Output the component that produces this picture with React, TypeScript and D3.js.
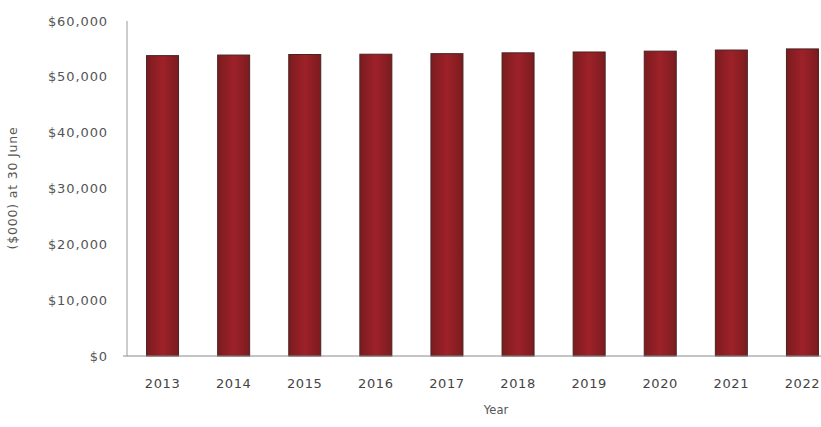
import React from "react";
import * as d3 from "d3";

const years = ["2013", "2014", "2015", "2016", "2017", "2018", "2019", "2020", "2021", "2022"];
const values = [53800, 53900, 54000, 54050, 54150, 54300, 54450, 54600, 54800, 55000];
const yTicks = [0, 10000, 20000, 30000, 40000, 50000, 60000];
const yTitle = "($000) at 30 June";
const xTitle = "Year";

export default function App() {
  const W = 821, H = 427;
  const x = d3.scaleBand<string>().domain(years).range([127, 838]).paddingInner(0.55).paddingOuter(0.275);
  const y = d3.scaleLinear().domain([0, 60000]).range([356, 21]);
  const fmt = (v: number) => "$" + d3.format(",")(v);
  const font = "'DejaVu Sans', sans-serif";
  return (
    <svg width={W} height={H} style={{ position: "absolute", left: 0, top: 0, background: "#fff" }}>
      <defs>
        <linearGradient id="barg" x1="0" x2="1" y1="0" y2="0">
          <stop offset="0" stopColor="#7a1c1f" />
          <stop offset="0.5" stopColor="#9e2129" />
          <stop offset="1" stopColor="#7a1c1f" />
        </linearGradient>
      </defs>
      <line x1={127} x2={127} y1={y(60000)} y2={y(0)} stroke="#9a9a9a" strokeWidth={1} />
      {yTicks.map((t) => (
        <text key={t} x={108} y={y(t)} dy="0.35em" textAnchor="end" fontFamily={font} fontSize={13}
          letterSpacing={0.9} fill="#555">{fmt(t)}</text>
      ))}
      {years.map((yr, i) => (
        <rect key={yr} x={x(yr)} y={y(values[i])} width={x.bandwidth()} height={y(0) - y(values[i])}
          fill="url(#barg)" stroke="#4a2222" strokeWidth={1} />
      ))}
      <line x1={123} x2={W} y1={y(0)} y2={y(0)} stroke="#8a8a8a" strokeWidth={1} />
      {years.map((yr) => (
        <text key={yr} x={(x(yr) as number) + x.bandwidth() / 2} y={388} textAnchor="middle" fontFamily={font}
          fontSize={13} letterSpacing={0.6} fill="#444">{yr}</text>
      ))}
      <text x={496} y={414} textAnchor="middle" fontFamily={font} fontSize={11.5} fill="#555">{xTitle}</text>
      <text transform={`translate(13,${188}) rotate(-90)`} textAnchor="middle" dy="0.35em" fontFamily={font}
        fontSize={12.5} letterSpacing={0.8} fill="#555">{yTitle}</text>
    </svg>
  );
}
